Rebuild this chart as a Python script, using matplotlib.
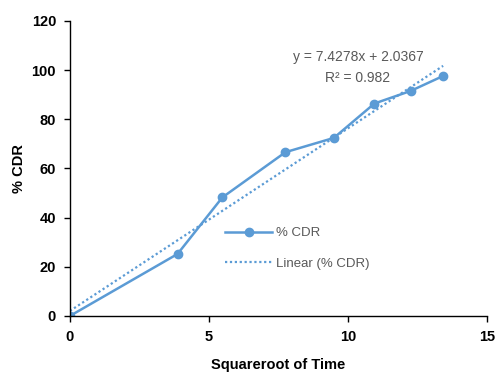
import numpy as np
import matplotlib
matplotlib.use("Agg")
from matplotlib import pyplot as plt

# data
sqrt_time = [0, 3.87, 5.48, 7.75, 9.49, 10.95, 12.25, 13.42]
cdr = [0, 25.2, 48.2, 66.6, 72.4, 86.4, 91.5, 97.6]
slope = 7.4278
intercept = 2.0367
r2 = 0.982

blue = "#5B9BD5"
grey = "#595959"

plt.rcParams['font.family'] = ['Liberation Sans', 'DejaVu Sans']

fig = plt.figure(figsize=(4.96, 3.73), dpi=100)
ax = fig.add_axes([0.141, 0.153, 0.841, 0.791])

ax.plot(sqrt_time, cdr, color=blue, lw=1.8, marker="o", ms=6, label="% CDR")
xs = np.array([sqrt_time[0], sqrt_time[-1]])
ax.plot(xs, slope * xs + intercept, color=blue, lw=1.6, ls=(0, (1, 1.2)),
        label="Linear (% CDR)")

ax.set_xlim(0, 15)
ax.set_ylim(0, 120)
ax.set_xticks([0, 5, 10, 15])
ax.set_yticks(range(0, 121, 20))
for s in ["top", "right"]:
    ax.spines[s].set_visible(False)
for s in ["left", "bottom"]:
    ax.spines[s].set_color("black")
    ax.spines[s].set_linewidth(1.0)
ax.tick_params(direction="out", length=4, width=1, labelsize=10.5, pad=6)
for lab in ax.get_xticklabels() + ax.get_yticklabels():
    lab.set_fontweight("bold")

ax.set_xlabel("Squareroot of Time", fontsize=10.5, fontweight="bold", labelpad=10)
ax.set_ylabel("% CDR", fontsize=10.5, fontweight="bold", labelpad=4)

ax.text(10.36, 105.4, f"y = {slope}x + {intercept}", color=grey, fontsize=10,
        ha="center", va="center")
ax.text(10.36, 96.8, f"R² = {r2}", color=grey, fontsize=10, ha="center", va="center")

leg = ax.legend(loc="upper left", bbox_to_anchor=(0.343, 0.342), frameon=False,
                fontsize=9.5, handlelength=3.6, labelspacing=1.4, handletextpad=0.3)
for t in leg.get_texts():
    t.set_color(grey)

fig.savefig("out.png", dpi=100)
